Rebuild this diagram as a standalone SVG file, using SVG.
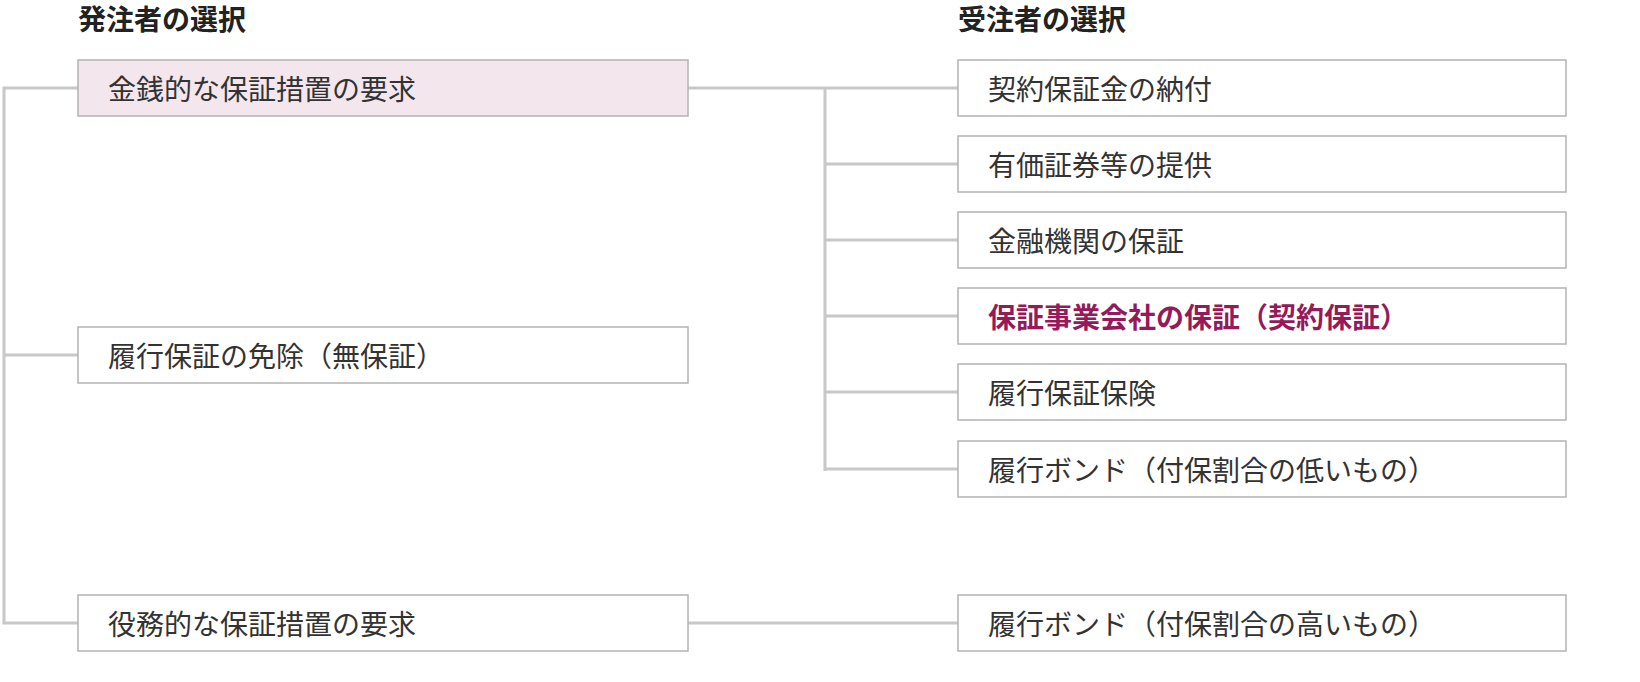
<svg xmlns="http://www.w3.org/2000/svg" width="1640" height="682" viewBox="0 0 1640 682">
<style>
text{font-family:"Noto Sans CJK JP","Noto Sans",sans-serif;font-size:28px;fill:#333;dominant-baseline:central}
.t{font-weight:bold;fill:#222}
.b{fill:#fff;stroke:#b3b3b3;stroke-width:1.5}
.p{fill:#f4e6ed}
.hl{fill:#96195a;font-weight:bold}
.c{stroke:#c8c8c8;stroke-width:3;fill:none}
</style>
<text class="t" x="78" y="18">発注者の選択</text>
<text class="t" x="958" y="18">受注者の選択</text>
<g id="connectors" class="c">
<path d="M78 88H4V623H78M4 355H78"/>
<path d="M688 88H958M825 88V471M825 164H958M825 240H958M825 316H958M825 392H958M825 469H958"/>
<path d="M688 623H958"/>
</g>
<g id="n1"><rect class="b p" x="78" y="60" width="610" height="56"/><text x="108" y="88">金銭的な保証措置の要求</text></g>
<g id="n2"><rect class="b" x="78" y="327" width="610" height="56"/><text x="108" y="355">履行保証の免除（無保証）</text></g>
<g id="n3"><rect class="b" x="78" y="595" width="610" height="56"/><text x="108" y="623">役務的な保証措置の要求</text></g>
<g id="r1"><rect class="b" x="958" y="60" width="608" height="56"/><text x="988" y="88">契約保証金の納付</text></g>
<g id="r2"><rect class="b" x="958" y="136" width="608" height="56"/><text x="988" y="164">有価証券等の提供</text></g>
<g id="r3"><rect class="b" x="958" y="212" width="608" height="56"/><text x="988" y="240">金融機関の保証</text></g>
<g id="r4"><rect class="b" x="958" y="288" width="608" height="56"/><text class="hl" x="988" y="316">保証事業会社の保証（契約保証）</text></g>
<g id="r5"><rect class="b" x="958" y="364" width="608" height="56"/><text x="988" y="392">履行保証保険</text></g>
<g id="r6"><rect class="b" x="958" y="441" width="608" height="56"/><text x="988" y="469">履行ボンド（付保割合の低いもの）</text></g>
<g id="r7"><rect class="b" x="958" y="595" width="608" height="56"/><text x="988" y="623">履行ボンド（付保割合の高いもの）</text></g>
</svg>
